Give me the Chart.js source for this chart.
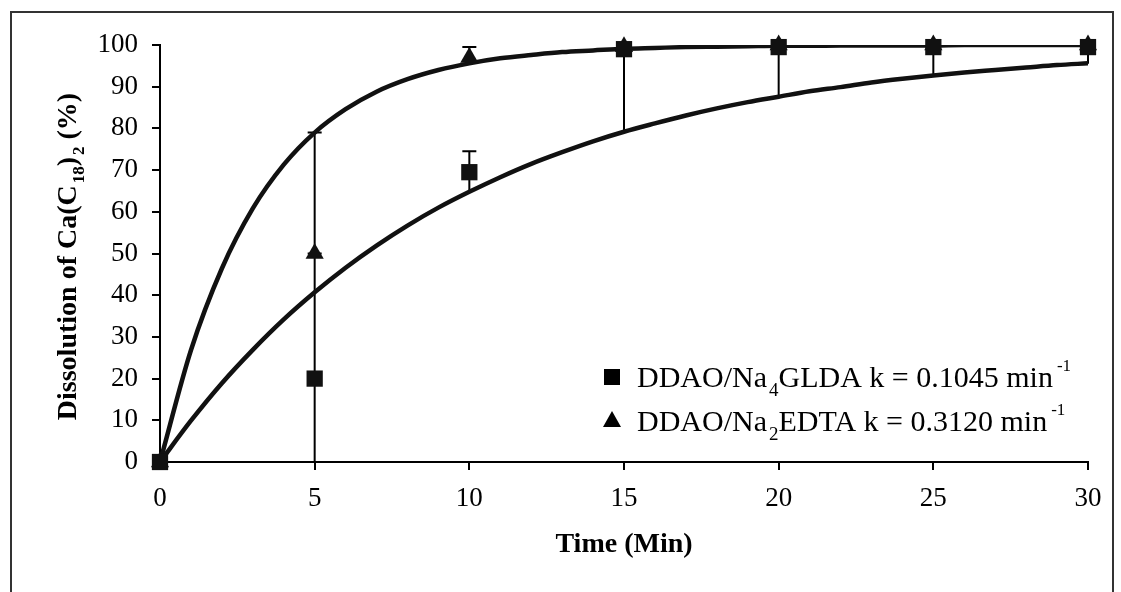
<!DOCTYPE html>
<html><head><meta charset="utf-8">
<script src="https://cdn.jsdelivr.net/npm/chart.js@4.4.0/dist/chart.umd.min.js"></script>
<style>html,body{margin:0;padding:0;background:#fff}#wrap{width:1121px;height:592px;position:relative}</style>
</head><body><div id="wrap"><canvas id="c" width="1121" height="592"></canvas></div>
<script>
// ---- data ----
const times = [0, 5, 10, 15, 20, 25, 30];
const gldaValues = [0, 20, 69.5, 99, 99.5, 99.5, 99.5];
const edtaValues = [0, 50, 97, 99.6, 100, 100, 100];
const gldaErrMinus = [0, 20, 5, 20, 12, 7, 4];
const gldaErrPlus = [0, 30, 5, 1, 0, 0, 0];
const edtaErrMinus = [0, 0, 0, 0, 0, 0, 0];
const edtaErrPlus = [0, 29, 2.5, 0, 0, 0, 0];

const fitTimes = [0,1,2,3,4,5,6,7,8,9,10,11,12,13,14,15,16,17,18,19,20,21,22,23,24,25,26,27,28,29,30];
const gldaFit = [0,9.9,18.9,26.9,34.2,40.7,46.6,51.9,56.7,61.0,64.8,68.3,71.5,74.3,76.9,79.2,81.2,83.1,84.8,86.3,87.6,88.9,89.9,91.0,91.9,92.7,93.4,94.0,94.6,95.2,95.6];
const edtaFit = [0,26.8,46.4,60.8,71.3,79.0,84.6,88.8,91.8,94.0,95.6,96.8,97.6,98.3,98.7,99.1,99.3,99.5,99.6,99.7,99.8,99.8,99.9,99.9,99.9,99.9,100,100,100,100,100];

const xTickValues = [0, 5, 10, 15, 20, 25, 30];
const yTickValues = [0, 10, 20, 30, 40, 50, 60, 70, 80, 90, 100];

const xTitle = 'Time (Min)';
const yTitleParts = [['Dissolution of Ca(C', ''], ['18', 'sub'], [')', ''], ['2', 'sub'], [' (%)', '']];
const legendGLDA = [['DDAO/Na', ''], ['4', 'sub'], ['GLDA k = 0.1045 min', ''], ['-1', 'sup']];
const legendEDTA = [['DDAO/Na', ''], ['2', 'sub'], ['EDTA k = 0.3120 min', ''], ['-1', 'sup']];

const FONT = '"Liberation Serif", "Times New Roman", serif';
Chart.defaults.font.family = FONT;
Chart.defaults.color = '#000';

function pts(xs, ys) { return xs.map((x, i) => ({x: x, y: ys[i]})); }

function partStyle(kind, size) {
  if (kind === 'sub') return [Math.round(size * 0.62), size * 0.30, 2];
  if (kind === 'sup') return [Math.round(size * 0.55), -size * 0.55, 4];
  return [size, 0, 0];
}
function drawRich(ctx, parts, x, y, size, weight) {
  let cx = x;
  for (const [t, kind] of parts) {
    const [s, dy, gap] = partStyle(kind, size);
    ctx.font = weight + ' ' + s + 'px ' + FONT;
    cx += gap;
    ctx.fillText(t, cx, y + dy);
    cx += ctx.measureText(t).width;
  }
  return cx - x;
}
function richWidth(ctx, parts, size, weight) {
  let w = 0;
  for (const [t, kind] of parts) {
    const [s, dy, gap] = partStyle(kind, size);
    ctx.font = weight + ' ' + s + 'px ' + FONT;
    w += ctx.measureText(t).width + gap;
  }
  return w;
}

const framePlugin = {
  id: 'frame',
  beforeDraw(chart) {
    const ctx = chart.ctx;
    ctx.save();
    ctx.fillStyle = '#fff';
    ctx.fillRect(0, 0, chart.width, chart.height);
    ctx.strokeStyle = '#333';
    ctx.lineWidth = 2;
    ctx.beginPath();
    ctx.moveTo(11, 592); ctx.lineTo(11, 12); ctx.lineTo(1113, 12); ctx.lineTo(1113, 592);
    ctx.stroke();
    ctx.restore();
  }
};

const errorBarPlugin = {
  id: 'errbars',
  beforeDatasetsDraw(chart) {
    const ctx = chart.ctx, xs = chart.scales.x, ys = chart.scales.y, a = chart.chartArea;
    ctx.save();
    ctx.strokeStyle = '#000';
    ctx.lineWidth = 2;
    const series = [[gldaValues, gldaErrMinus, gldaErrPlus], [edtaValues, edtaErrMinus, edtaErrPlus]];
    for (const [vals, em, ep] of series) {
      for (let i = 0; i < times.length; i++) {
        if (!em[i] && !ep[i]) continue;
        const px = xs.getPixelForValue(times[i]);
        let yHi = ys.getPixelForValue(vals[i] + ep[i]);
        let yLo = ys.getPixelForValue(vals[i] - em[i]);
        const capHi = ep[i] > 0 && yHi >= a.top - 0.5;
        yHi = Math.max(yHi, a.top);
        yLo = Math.min(yLo, a.bottom);
        ctx.beginPath();
        ctx.moveTo(px, yLo); ctx.lineTo(px, yHi);
        if (capHi) { ctx.moveTo(px - 7, yHi); ctx.lineTo(px + 7, yHi); }
        ctx.stroke();
      }
    }
    ctx.restore();
  }
};

const textPlugin = {
  id: 'texts',
  afterDraw(chart) {
    const ctx = chart.ctx, a = chart.chartArea;
    ctx.save();
    ctx.fillStyle = '#000';
    ctx.textBaseline = 'alphabetic';
    ctx.textAlign = 'left';
    // y axis title (rotated, with subscripts)
    const ySize = 28;
    const w = richWidth(ctx, yTitleParts, ySize, 'bold');
    ctx.save();
    ctx.translate(76, (a.top + a.bottom) / 2 + 3);
    ctx.rotate(-Math.PI / 2);
    drawRich(ctx, yTitleParts, -w / 2, 0, ySize, 'bold');
    ctx.restore();
    // legend
    const lSize = 30;
    const mx = 612;
    const rows = [[legendGLDA, 377, 'rect'], [legendEDTA, 421, 'tri']];
    for (const [parts, cy, shape] of rows) {
      ctx.beginPath();
      if (shape === 'rect') {
        ctx.rect(mx - 8, cy - 8, 16, 16);
      } else {
        ctx.moveTo(mx, cy - 10); ctx.lineTo(mx + 9, cy + 6); ctx.lineTo(mx - 9, cy + 6); ctx.closePath();
      }
      ctx.fill();
      drawRich(ctx, parts, 637, cy + 10, lSize, 'normal');
    }
    ctx.restore();
  }
};

new Chart(document.getElementById('c'), {
  type: 'scatter',
  data: {
    datasets: [
      { label: 'GLDA', data: pts(times, gldaValues), pointStyle: 'rect', pointRadius: 11.5, pointHoverRadius: 11.5,
        backgroundColor: '#111', borderColor: '#111', borderWidth: 0, showLine: false, clip: false },
      { label: 'EDTA', data: pts(times, edtaValues), pointStyle: 'triangle', pointRadius: 10.5, pointHoverRadius: 10.5,
        backgroundColor: '#111', borderColor: '#111', borderWidth: 0, showLine: false, clip: false },
      { label: 'GLDA fit', type: 'line', data: pts(fitTimes, gldaFit), borderColor: '#111', borderWidth: 4.5,
        pointRadius: 0, cubicInterpolationMode: 'monotone', fill: false, clip: 0 },
      { label: 'EDTA fit', type: 'line', data: pts(fitTimes, edtaFit), borderColor: '#111', borderWidth: 4.5,
        pointRadius: 0, cubicInterpolationMode: 'monotone', fill: false, clip: 0 }
    ]
  },
  options: {
    responsive: false,
    animation: false,
    events: [],
    layout: { padding: { left: 0, right: 33, top: 45, bottom: 30 } },
    plugins: { legend: { display: false }, tooltip: { enabled: false } },
    scales: {
      x: {
        type: 'linear', min: 0, max: 30,
        afterFit(s) { s.height = 100; },
        afterBuildTicks(s) { s.ticks = xTickValues.map(v => ({value: v})); },
        ticks: { font: { size: 27 }, padding: 13, color: '#000', maxRotation: 0 },
        grid: { drawOnChartArea: false, drawTicks: true, tickLength: 8, color: '#000', lineWidth: 2 },
        border: { display: true, color: '#000', width: 2 },
        title: { display: true, text: xTitle, font: { size: 28, weight: 'bold' }, color: '#000', padding: 0 }
      },
      y: {
        type: 'linear', min: 0, max: 100,
        afterFit(s) { s.width = 160; },
        afterBuildTicks(s) { s.ticks = yTickValues.map(v => ({value: v})); },
        ticks: { font: { size: 27 }, padding: 14, color: '#000' },
        grid: { drawOnChartArea: false, drawTicks: true, tickLength: 8, color: '#000', lineWidth: 2 },
        border: { display: true, color: '#000', width: 2 }
      }
    }
  },
  plugins: [framePlugin, errorBarPlugin, textPlugin]
});
</script>
</body></html>
